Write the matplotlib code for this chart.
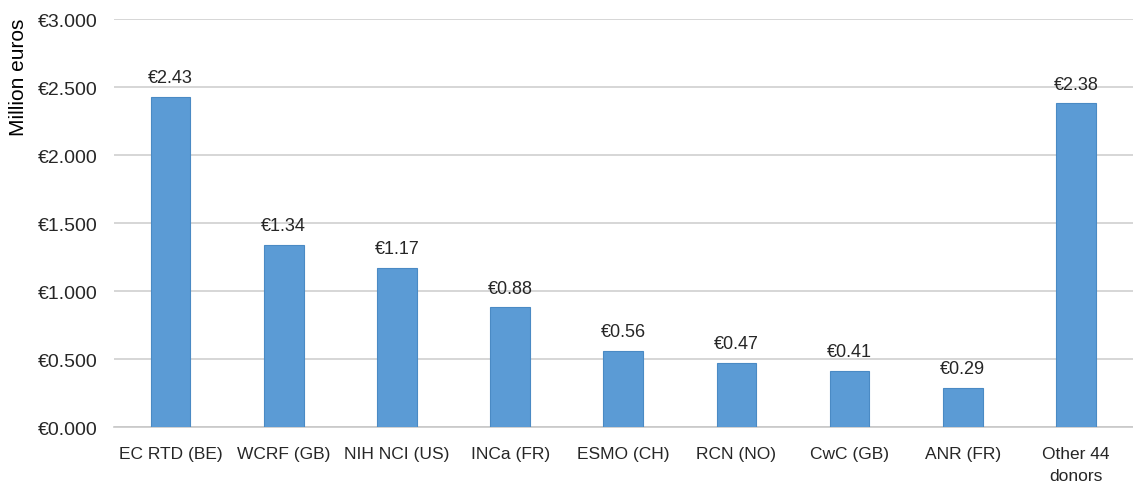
import matplotlib
matplotlib.use("Agg")
import matplotlib.pyplot as plt
from matplotlib.ticker import FuncFormatter

# donors and amounts (million euros)
donantes = ["EC RTD (BE)", "WCRF (GB)", "NIH NCI (US)", "INCa (FR)", "ESMO (CH)",
            "RCN (NO)", "CwC (GB)", "ANR (FR)", "Other 44\ndonors"]
montos = [2.43, 1.34, 1.17, 0.88, 0.56, 0.47, 0.41, 0.29, 2.38]
etiquetas = ["€2.43", "€1.34", "€1.17", "€0.88", "€0.56", "€0.47", "€0.41", "€0.29", "€2.38"]

plt.rcParams['font.family'] = ['Liberation Sans', 'DejaVu Sans']

fig = plt.figure(figsize=(11.33, 4.89), dpi=100)
ax = fig.add_axes([0.1006, 0.1247, 0.899, 0.834])

x = list(range(len(donantes)))
ax.bar(x, montos, width=0.35, color='#5B9BD5', edgecolor='#4A8AC4', linewidth=0.8, zorder=3)

for i, v in enumerate(montos):
    ax.text(i, v + 0.08, etiquetas[i], ha='center', va='bottom', fontsize=13, color='#262626')

ax.set_xlim(-0.5, len(donantes) - 0.5)
ax.set_ylim(0, 3.0)
ax.set_yticks([0, 0.5, 1.0, 1.5, 2.0, 2.5, 3.0])
ax.yaxis.set_major_formatter(FuncFormatter(lambda v, p: "€%.3f" % v))
ax.set_xticks(x)
ax.set_xticklabels(donantes, fontsize=12.5, color='#262626', linespacing=1.55)
ax.tick_params(axis='y', labelsize=14, labelcolor='#262626', length=0, pad=12)
ax.tick_params(axis='x', length=0, pad=14)

ax.grid(axis='y', color='#D0D0D0', linewidth=1.2, zorder=0)
for s in ['top', 'right', 'left']:
    ax.spines[s].set_visible(False)
ax.spines['bottom'].set_color('#C8C8C8')
ax.spines['bottom'].set_linewidth(1.2)

ax.set_ylabel('Million euros', fontsize=15, color='#000000')
ax.yaxis.set_label_coords(-0.084, 0.86)

plt.savefig('out.png', dpi=100)
